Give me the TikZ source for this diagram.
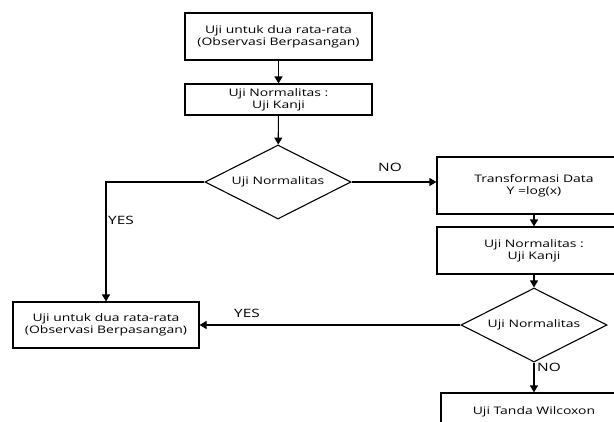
\documentclass[tikz,border=0pt]{standalone}
\usepackage{fontspec}
\setmainfont{Open Sans}[FakeStretch=1.34]
\usetikzlibrary{shapes.geometric,arrows.meta}
\begin{document}
\begin{tikzpicture}[x=1pt,y=-1pt,
  box/.style={draw,line width=1.1pt,rectangle,minimum width=#1,inner sep=0pt,align=center,
    font=\fontsize{10.4}{11.8}\selectfont},
  dec/.style={draw,line width=1.1pt,diamond,aspect=2,inner sep=0pt,minimum width=146pt,minimum height=74pt,
    font=\fontsize{10.4}{11.8}\selectfont},
  conn/.style={line width=1.1pt,-{Triangle[length=7pt,width=8pt]}},
  lab/.style={font=\fontsize{11.5}{12}\selectfont,inner sep=0pt}]
\useasboundingbox (0,0) rectangle (614,421);
\clip (0,0) rectangle (614,421);
\node[box=187pt,minimum height=47pt] (b1) at (278.5,36.5) {Uji untuk dua rata-rata\\(Observasi Berpasangan)};
\node[box=187pt,minimum height=31pt] (b2) at (278.5,99.5) {Uji Normalitas :\\Uji Kanji};
\node[dec] (d1) at (278,182) {Uji Normalitas};
\node[box=194pt,minimum height=57pt] (b3) at (534,185.5) {Transformasi Data\\Y =log(x)};
\node[box=194pt,minimum height=47pt] (b4) at (534,250.5) {Uji Normalitas :\\Uji Kanji};
\node[dec] (d2) at (534,325) {Uji Normalitas};
\node[box=186pt,minimum height=46pt] (b6) at (106,325) {Uji untuk dua rata-rata\\(Observasi Berpasangan)};
\node[box=186pt,minimum height=46pt,text depth=11pt] (b5) at (534,416) {Uji Tanda Wilcoxon};
\draw[conn] (b1) -- (b2);
\draw[conn] (b2) -- (d1);
\draw[conn] (d1.west) -| (b6.north);
\draw[conn] (d1.east) -- (d1.east -| b3.west);
\draw[conn] (b3) -- (b4);
\draw[conn] (b4) -- (d2);
\draw[conn] (d2.west) -- (b6.east);
\draw[conn] (d2.south) -- (b5.north);
\node[lab] (no1) at (390,167) {NO};
\node[lab,anchor=west] (yes1) at (108,220) {YES};
\node[lab] (yes2) at (247,313) {YES};
\node[lab,anchor=west] (no2) at (537,367) {NO};
\end{tikzpicture}
\end{document}
